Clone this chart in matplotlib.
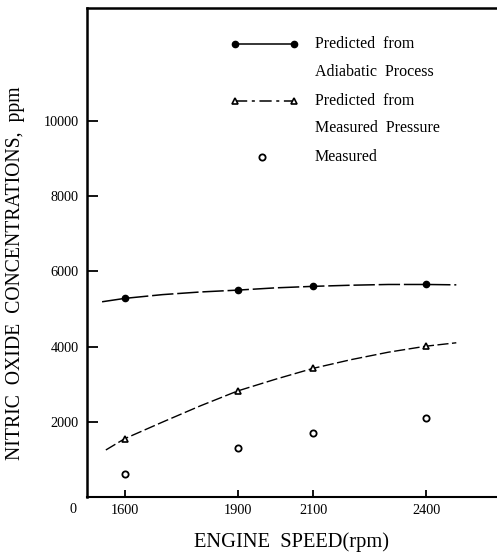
import matplotlib
matplotlib.use("Agg")
import matplotlib.pyplot as plt

plt.rcParams['font.family'] = ['Liberation Serif', 'DejaVu Serif']

# Engine speeds where the NO concentration was evaluated
speeds = [1600, 1900, 2100, 2400]
adiabatic = [5300, 5500, 5600, 5650]
pressure = [1550, 2820, 3420, 4010]
measured = [620, 1300, 1700, 2100]

# Fitted trend curves through the predicted points
adiabatic_curve_x = [1540, 1600, 1700, 1800, 1900, 2000, 2100, 2200, 2300, 2400, 2480]
adiabatic_curve_y = [5190, 5280, 5380, 5450, 5500, 5560, 5600, 5630, 5650, 5650, 5640]
pressure_curve_x = [1550, 1600, 1700, 1800, 1900, 2000, 2100, 2200, 2300, 2400, 2480]
pressure_curve_y = [1250, 1550, 1990, 2420, 2820, 3130, 3420, 3650, 3850, 4010, 4100]

yticks = [2000, 4000, 6000, 8000, 10000]
xticks = [1600, 1900, 2100, 2400]

W, H = 497, 555
fig = plt.figure(figsize=(W / 100, H / 100), dpi=100)
left, right, top, bottom = 87, 497, 8, 497
ax = fig.add_axes([left / W, 1 - bottom / H, (right - left) / W, (bottom - top) / H])

ax.set_xlim(1500, 2588)
ax.set_ylim(0, 13000)

# Curves
ax.plot(adiabatic_curve_x, adiabatic_curve_y, color='black', lw=1.1,
        linestyle=(0, (14, 2.5)))
ax.plot(pressure_curve_x, pressure_curve_y, color='black', lw=1.0,
        linestyle=(0, (8, 2.5)))

# Points
ax.plot(speeds, adiabatic, 'o', color='black', markersize=4.5, linestyle='none')
ax.plot(speeds, pressure, '^', markerfacecolor='white', markeredgecolor='black',
        markeredgewidth=1.2, markersize=5, linestyle='none')
ax.plot(speeds, measured, 'o', markerfacecolor='white', markeredgecolor='black',
        markeredgewidth=1.3, markersize=4.5, linestyle='none')

# Spines
ax.spines['right'].set_visible(False)
ax.spines['left'].set_linewidth(1.8)
ax.spines['top'].set_linewidth(1.8)
ax.spines['bottom'].set_linewidth(1.5)

ax.set_xticks(xticks)
ax.set_xticklabels([str(v) for v in xticks])
ax.set_yticks(yticks)
ax.set_yticklabels([str(v) for v in yticks])
ax.tick_params(axis='y', direction='in', length=8, width=1.3, labelsize=10.3, pad=6)
ax.tick_params(axis='x', direction='in', length=5, width=1.3, labelsize=10.3, pad=5)

ax.text(-0.034, -0.025, '0', transform=ax.transAxes, ha='center', va='center',
        fontsize=10.3)

# Axis titles
fig.text(291 / W, 1 - 542 / H, 'ENGINE  SPEED(rpm)', ha='center', va='center',
         fontsize=14.8)
fig.text(16 / W, 1 - 273 / H, 'NITRIC  OXIDE  CONCENTRATIONS,  ppm', ha='center',
         va='center', rotation=90, fontsize=14.2)

# Key
tr = ax.transAxes
kx1, kx2, tx = 0.361, 0.505, 0.556
r1, r1b, r2, r2b, r3 = 0.926, 0.869, 0.810, 0.755, 0.695
ax.plot([kx1, kx2], [r1, r1], '-o', color='black', lw=1.1, markersize=4.5,
        transform=tr, clip_on=False)
ax.plot([kx1, kx2], [r2, r2], color='black', lw=1.1, linestyle=(0, (8, 3, 2, 3)),
        transform=tr, clip_on=False)
ax.plot([kx1, kx2], [r2, r2], '^', markerfacecolor='white', markeredgecolor='black',
        markeredgewidth=1.2, markersize=5, transform=tr, clip_on=False)
ax.plot([(kx1 + kx2) / 2 - 0.007], [r3], 'o', markerfacecolor='white',
        markeredgecolor='black', markeredgewidth=1.3, markersize=4.5,
        transform=tr, clip_on=False)
kfs = 11.5
ax.text(tx, r1, 'Predicted  from', transform=tr, va='center', fontsize=kfs)
ax.text(tx, r1b, 'Adiabatic  Process', transform=tr, va='center', fontsize=kfs)
ax.text(tx, r2, 'Predicted  from', transform=tr, va='center', fontsize=kfs)
ax.text(tx, r2b, 'Measured  Pressure', transform=tr, va='center', fontsize=kfs)
ax.text(tx, r3, 'Measured', transform=tr, va='center', fontsize=kfs)

fig.savefig('out.png', dpi=100)
